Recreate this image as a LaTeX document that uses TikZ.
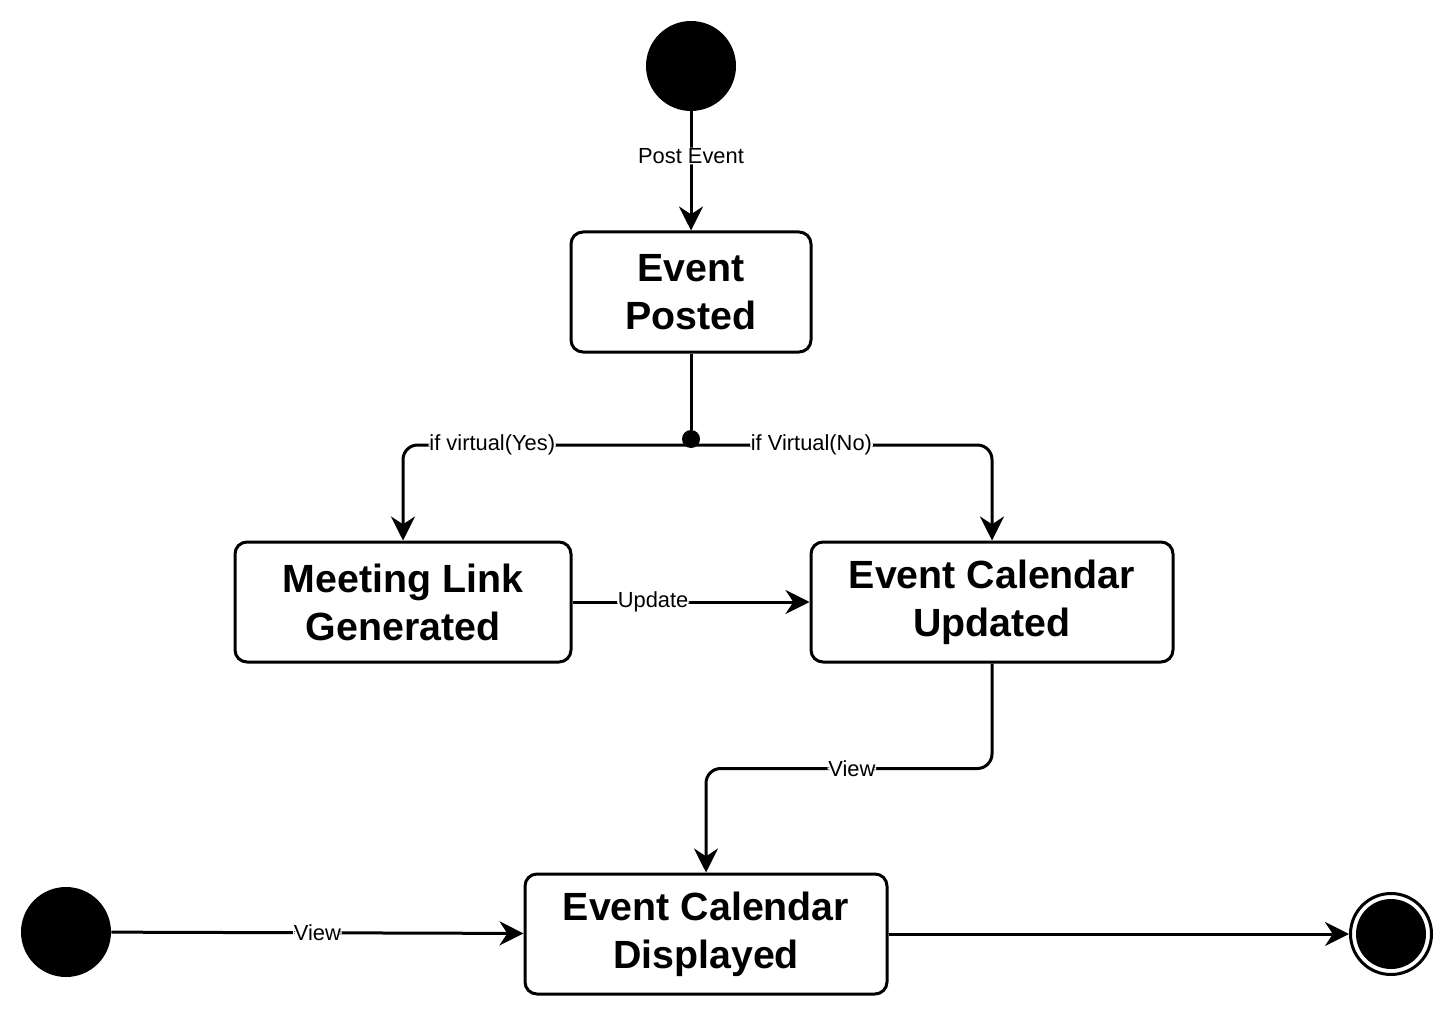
\documentclass[tikz,border=0pt]{standalone}
\usepackage{fontspec}
\setmainfont{Liberation Sans}
\usetikzlibrary{arrows.meta}

\begin{document}
\begin{tikzpicture}[x=0.75pt, y=-0.75pt,
  state/.style={draw, line width=2.25pt, rounded corners=9pt, align=center,
                minimum height=90pt, inner sep=0pt,
                font=\fontsize{29.5}{36}\selectfont\bfseries},
  init/.style={circle, fill=black, minimum size=67.5pt, inner sep=0pt},
  endring/.style={circle, draw, line width=2.25pt, minimum size=60.75pt, inner sep=0pt},
  lbl/.style={font=\fontsize{16.4}{19}\selectfont, fill=white, inner sep=0.6pt},
  line/.style={line width=2.25pt},
  arr/.style={-{Stealth[length=18pt, width=18pt]}, line width=2.25pt, rounded corners=11pt}]
  \useasboundingbox (0,0) rectangle (1452,1016);
  % states
  \node[init] (start) at (691,66) {};
  \node[state, minimum width=180pt] (posted) at (691,292) {Event\\Posted};
  \node[circle, fill=black, minimum size=13.5pt, inner sep=0pt] (jn) at (691,439) {};
  \coordinate (split) at (691,445);
  \node[state, minimum width=252pt] (meet) at (403,602) {Meeting Link\\Generated};
  \node[state, minimum width=271.5pt] (upd) at (992,602) {Event Calendar\\Updated};
  \node[state, minimum width=271.5pt] (disp) at (706,934) {Event Calendar\\Displayed};
  \node[init] (start2) at (66,932) {};
  \node[endring] (fin) at (1391,934) {};
  \fill (fin) circle (35);
  % transitions
  \draw[arr] (start) -- node[lbl, pos=0.375]{Post Event} (posted);
  \draw[line] (posted) -- (jn);
  \draw[arr] (split) -| node[lbl, pos=0.345]{if virtual(Yes)} (meet);
  \draw[arr] (split) -| node[lbl, pos=0.2]{if Virtual(No)} (upd);
  \draw[arr] (meet) -- node[lbl, pos=0.34]{Update} (upd);
  \draw[arr] (upd.south) -- ++(0,105) -| node[lbl, pos=0.245]{View} (disp);
  \draw[arr] (start2) -- node[lbl]{View} (disp);
  \draw[arr] (disp) -- (fin);
\end{tikzpicture}
\end{document}
